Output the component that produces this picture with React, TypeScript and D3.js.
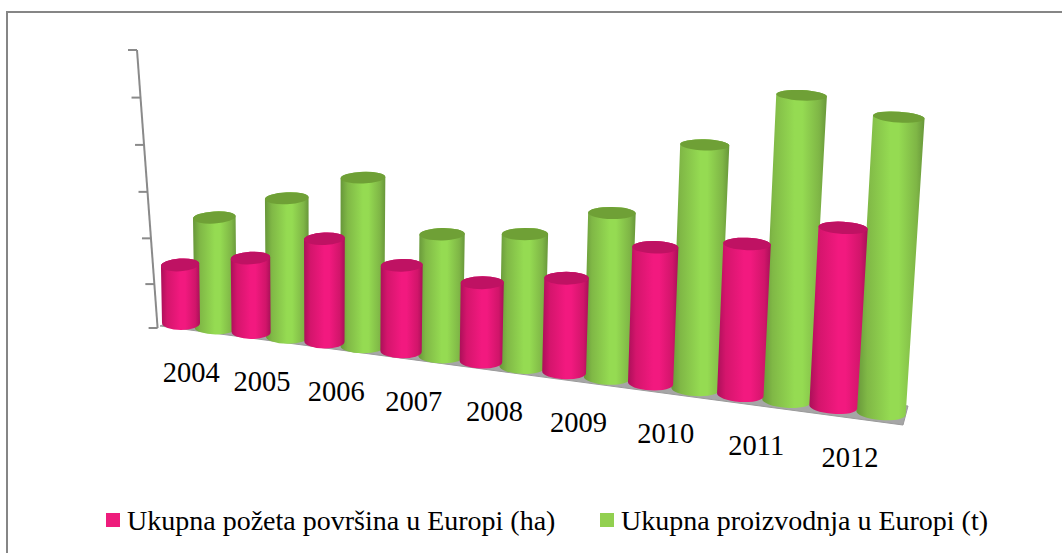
import * as d3 from 'd3'

const W = 1062
const H = 553

const years = ['2004', '2005', '2006', '2007', '2008', '2009', '2010', '2011', '2012']
const seriesNames = ['Ukupna požeta površina u Europi (ha)', 'Ukupna proizvodnja u Europi (t)']
// values, in units of one axis interval (axis has no labels)
const harvested = [1.32, 1.64, 2.22, 1.81, 1.62, 1.88, 2.65, 2.86, 3.3]
const production = [2.47, 3.03, 3.6, 2.54, 2.69, 3.25, 4.69, 5.71, 5.38]
const axisTicks = [0, 1, 2, 3, 4, 5, 6]

const PINK = {
  stops: ['#ab1059', '#d4156c', '#f2197f', '#f2197f', '#d1156a', '#a91058'],
  top: '#bf1263',
  swatch: '#ee1c7c',
}
const GREEN = {
  stops: ['#67963a', '#80b846', '#95db52', '#95db52', '#7fb646', '#68973a'],
  top: '#6fa036',
  swatch: '#92d050',
}
const stopOffsets = [0, 0.16, 0.5, 0.62, 0.88, 1]

// ── fake 3D projection: slots are spaced wider towards the viewer ─────
const slotX = d3.scalePow().exponent(2).domain([41.8, 58.8]).range([181, 881])
const floorY = d3.scaleLinear().domain([181, 881]).range([330, 420])
const unit = d3.scaleLinear().domain([181, 881]).range([44, 55])
const lean = d3.scaleLinear().domain([216, 881]).range([-0.012, 0.06])
const topTilt = d3.scaleLinear().domain([181, 900]).range([-4, 4])
const bottomTilt = d3.scaleLinear().domain([181, 900]).range([0, 5])
const topRy = d3.scaleLinear().domain([90, 330]).range([5.2, 6.8])
const widths = [
  d3.scaleLinear().domain([181, 836]).range([38, 48]),
  d3.scaleLinear().domain([216, 881]).range([42, 49.5]),
]

const yearSlot = d3.scalePoint<string>().domain(years).range([0, 16])
const axisY = d3.scalePow().exponent(1.03).domain([0, 6]).range([328, 50])
const axisX = d3.scalePow().exponent(1.03).domain([0, 6]).range([157.6, 137])

function cylinder(slot: number, value: number, series: number) {
  const cx = slotX(slot + 41.8)
  const rx = widths[series](cx) / 2
  const ryB = 7
  const by = floorY(cx) - ryB
  const h = value * unit(cx)
  const rxT = rx * (1 + h * 0.00015)
  const tx = cx + lean(cx) * h
  const ty = by - h
  const ryT = topRy(ty)
  const aT = topTilt(cx)
  const aB = bottomTilt(cx)
  const rT = (aT * Math.PI) / 180
  const rB = (aB * Math.PI) / 180
  const body =
    `M${tx - rxT * Math.cos(rT)},${ty - rxT * Math.sin(rT)}` +
    `L${cx - rx * Math.cos(rB)},${by - rx * Math.sin(rB)}` +
    `A${rx},${ryB} ${aB} 0 0 ${cx + rx * Math.cos(rB)},${by + rx * Math.sin(rB)}` +
    `L${tx + rxT * Math.cos(rT)},${ty + rxT * Math.sin(rT)}` +
    `A${rxT},${ryT} ${aT} 0 0 ${tx - rxT * Math.cos(rT)},${ty - rxT * Math.sin(rT)}Z`
  return { body, tx, ty, rxT, ryT, aT }
}

function Series({ values, index, color }: { values: number[]; index: number; color: typeof PINK }) {
  return (
    <g>
      {values.map((v, i) => {
        const c = cylinder(yearSlot(years[i])! + index, v, index)
        return (
          <g key={years[i]}>
            <path d={c.body} fill={`url(#grad${index})`} />
            <ellipse
              cx={c.tx}
              cy={c.ty}
              rx={c.rxT}
              ry={c.ryT}
              fill={color.top}
              transform={`rotate(${c.aT} ${c.tx} ${c.ty})`}
            />
          </g>
        )
      })}
    </g>
  )
}

function Gradient({ id, color }: { id: string; color: typeof PINK }) {
  return (
    <linearGradient id={id} x1="0" x2="1" y1="0" y2="0">
      {color.stops.map((s, i) => (
        <stop key={i} offset={stopOffsets[i]} stopColor={s} />
      ))}
    </linearGradient>
  )
}

export default function App() {
  const groupX = (y: string) => slotX(yearSlot(y)! + 0.5 + 41.8)
  const font = "'Liberation Serif', serif"
  return (
    <svg
      width={W}
      height={H}
      style={{ position: 'absolute', left: 0, top: 0, display: 'block', background: '#fff' }}
    >
      <defs>
        <Gradient id="grad0" color={PINK} />
        <Gradient id="grad1" color={GREEN} />
      </defs>

      {/* chart frame, cut off by the picture on the right and below */}
      <path d={`M7,${H}V12H${W}`} fill="none" stroke="#868686" strokeWidth={2} />

      {/* floor */}
      <polygon points="160,326 903,425 908,406 170,322" fill="#a6a6a6" stroke="#9a9a9a" />

      {/* value axis */}
      <line
        x1={axisX(6)}
        y1={axisY(6)}
        x2={axisX(0)}
        y2={axisY(0)}
        stroke="#8a8a8a"
        strokeWidth={2}
      />
      {axisTicks.map((t) => (
        <line
          key={t}
          x1={axisX(t) - 9}
          x2={axisX(t)}
          y1={axisY(t)}
          y2={axisY(t)}
          stroke="#8a8a8a"
          strokeWidth={2}
        />
      ))}

      <Series values={production} index={1} color={GREEN} />
      <Series values={harvested} index={0} color={PINK} />

      {/* year labels */}
      {years.map((y) => (
        <text
          key={y}
          x={groupX(y) - 7}
          y={floorY(groupX(y)) + 50}
          textAnchor="middle"
          fontFamily={font}
          fontSize={28.5}
          fill="#000"
        >
          {y}
        </text>
      ))}

      {/* legend */}
      <rect x={106} y={513} width={14} height={14} fill={PINK.swatch} />
      <text x={127} y={530} fontFamily={font} fontSize={28} fill="#000">
        {seriesNames[0]}
      </text>
      <rect x={600} y={513} width={14} height={14} fill={GREEN.swatch} />
      <text x={621} y={530} fontFamily={font} fontSize={28} fill="#000">
        {seriesNames[1]}
      </text>
    </svg>
  )
}
